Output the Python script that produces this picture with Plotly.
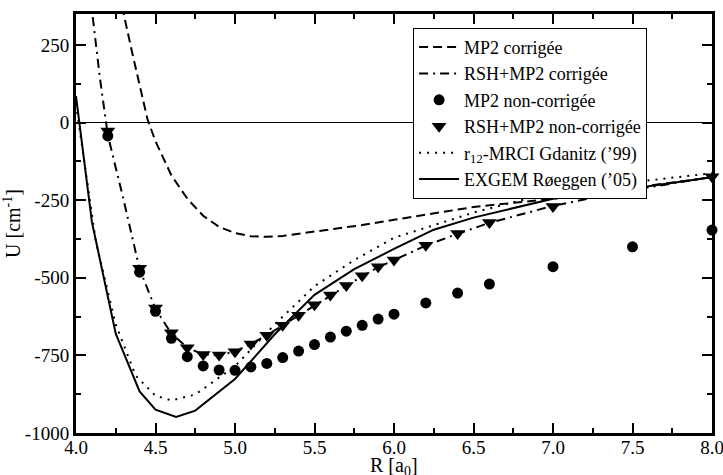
import plotly.graph_objects as go

# MP2 corrigée (dashed)
mp2c_x = [4.28, 4.30, 4.35, 4.40, 4.45, 4.50, 4.60, 4.70, 4.80, 4.90, 5.00, 5.10, 5.20, 5.30, 5.40, 5.60, 5.80, 6.00, 6.50, 7.00, 7.50, 8.00]
mp2c_y = [420, 350, 233, 117, 10, -60, -170, -245, -300, -336, -356, -366, -368, -365, -358, -343, -330, -313, -272, -245, -210, -176]

# RSH+MP2 corrigée (dash-dot)
rshc_x = [4.09, 4.15, 4.20, 4.30, 4.40, 4.50, 4.60, 4.70, 4.80, 4.90, 5.00, 5.10, 5.20, 5.30, 5.40, 5.50, 5.60, 5.70, 5.80, 5.90, 6.00, 6.20, 6.40, 6.60, 7.00, 7.50, 8.00]
rshc_y = [407, 145, -40, -250, -472, -600, -680, -725, -747, -750, -737, -713, -685, -653, -621, -588, -556, -526, -495, -466, -443, -396, -358, -323, -268, -217, -175]

# MP2 non-corrigée (circles)
mp2n_x = [4.2, 4.4, 4.5, 4.6, 4.7, 4.8, 4.9, 5.0, 5.1, 5.2, 5.3, 5.4, 5.5, 5.6, 5.7, 5.8, 5.9, 6.0, 6.2, 6.4, 6.6, 7.0, 7.5, 8.0]
mp2n_y = [-43, -482, -608, -695, -754, -784, -797, -798, -787, -776, -757, -736, -715, -691, -672, -653, -633, -617, -581, -549, -520, -464, -400, -346]

# RSH+MP2 non-corrigée (triangles)
rshn_x = [4.2, 4.4, 4.5, 4.6, 4.7, 4.8, 4.9, 5.0, 5.1, 5.2, 5.3, 5.4, 5.5, 5.6, 5.7, 5.8, 5.9, 6.0, 6.2, 6.4, 6.6, 7.0, 7.5, 8.0]
rshn_y = [-27, -469, -597, -677, -725, -747, -749, -738, -713, -685, -653, -621, -587, -555, -525, -493, -464, -443, -395, -357, -322, -270, -218, -174]

# r12-MRCI Gdanitz ('99) (dotted)
mrci_x = [4.0, 4.125, 4.25, 4.375, 4.5, 4.6, 4.75, 4.875, 5.0, 5.25, 5.5, 5.75, 6.0, 6.5, 7.0, 7.5, 8.0]
mrci_y = [60, -384, -650, -815, -880, -895, -876, -830, -785, -650, -527, -443, -371, -290, -224, -192, -163]

# EXGEM Røeggen ('05) (solid)
exgem_x = [4.0, 4.1, 4.25, 4.4, 4.5, 4.63, 4.75, 5.0, 5.25, 5.5, 5.75, 6.0, 6.25, 6.5, 7.0, 7.5, 8.0]
exgem_y = [85, -320, -680, -866, -925, -948, -928, -826, -682, -555, -472, -407, -345, -306, -245, -212, -176]

x_ticks = [4.0, 4.5, 5.0, 5.5, 6.0, 6.5, 7.0, 7.5, 8.0]
x_ticklabels = ["4.0", "4.5", "5.0", "5.5", "6.0", "6.5", "7.0", "7.5", "8.0"]
y_ticks = [-1000, -750, -500, -250, 0, 250]
y_ticklabels = ["-1000", "-750", "-500", "-250", "0", "250"]
x_title = "R [a<sub>0</sub>]"
y_title = "U [cm<sup>-1</sup>]"

FONT = "Liberation Serif, Times New Roman, DejaVu Serif, serif"

fig = go.Figure()
fig.add_trace(go.Scatter(x=mp2c_x, y=mp2c_y, mode="lines", name="MP2 corrigée",
                         line=dict(color="black", width=2, dash="9px,5px")))
fig.add_trace(go.Scatter(x=rshc_x, y=rshc_y, mode="lines", name="RSH+MP2 corrigée",
                         line=dict(color="black", width=2, dash="9px,5px,2px,5px")))
fig.add_trace(go.Scatter(x=mp2n_x, y=mp2n_y, mode="markers", name="MP2 non-corrigée",
                         marker=dict(symbol="circle", size=11, color="black"), cliponaxis=False))
fig.add_trace(go.Scatter(x=rshn_x, y=rshn_y, mode="markers", name="RSH+MP2 non-corrigée",
                         marker=dict(symbol="triangle-down", size=13, color="black"), cliponaxis=False))
fig.add_trace(go.Scatter(x=mrci_x, y=mrci_y, mode="lines", name="r<sub>12</sub>-MRCI Gdanitz (’99)",
                         line=dict(color="black", width=2, dash="2px,6px")))
fig.add_trace(go.Scatter(x=exgem_x, y=exgem_y, mode="lines", name="EXGEM Røeggen (’05)",
                         line=dict(color="black", width=2)))

axis_common = dict(
    showgrid=False, showline=True, linecolor="black", linewidth=3, mirror="ticks",
    ticks="inside", ticklen=10, tickwidth=1.5, tickcolor="black",
    tickfont=dict(family=FONT, size=19, color="black"), automargin=False,
)
fig.update_xaxes(**axis_common, range=[4.0, 8.0], tickmode="array", tickvals=x_ticks,
                 ticktext=x_ticklabels, zeroline=False, ticklabelstandoff=-5,
                 ticklabeloverflow="allow",
                 minor=dict(ticks="inside", ticklen=5, tickwidth=1.5, tickcolor="black", dtick=0.25, showgrid=False))
fig.update_yaxes(**axis_common, range=[-1000, 350], tickmode="array", tickvals=y_ticks,
                 ticktext=y_ticklabels, zeroline=True, zerolinecolor="black", zerolinewidth=1,
                 ticklabeloverflow="allow",
                 minor=dict(ticks="inside", ticklen=5, tickwidth=1.5, tickcolor="black", dtick=125, tick0=0, showgrid=False),
                 title=dict(text=y_title, font=dict(family=FONT, size=20, color="black"), standoff=2))

fig.add_annotation(text=x_title, xref="paper", yref="paper", x=0.5, y=-0.081,
                   xanchor="center", yanchor="middle", showarrow=False,
                   font=dict(family=FONT, size=20, color="black"))

fig.update_layout(
    template="none",
    width=723, height=475,
    margin=dict(l=76, r=11, t=14, b=42),
    paper_bgcolor="white", plot_bgcolor="white",
    font=dict(family=FONT, color="black"),
    showlegend=True,
    legend=dict(x=0.53, y=0.967, xanchor="left", yanchor="top",
                bgcolor="white", bordercolor="black", borderwidth=1,
                font=dict(family=FONT, size=18, color="black"),
                tracegroupgap=0, itemwidth=40),
)

fig.write_html("out.html", config={"displayModeBar": False},
               post_script="document.body.style.margin='0';document.body.style.overflow='hidden';")
